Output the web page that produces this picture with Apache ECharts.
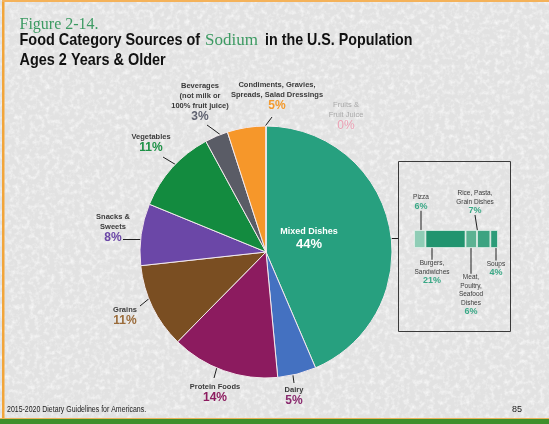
<!DOCTYPE html>
<html>
<head>
<meta charset="utf-8">
<script src="https://cdn.jsdelivr.net/npm/echarts@6/dist/echarts.min.js"></script>
<style>
  html, body { margin: 0; padding: 0; background-color: #e6e6e6; }
  #chart { width: 549px; height: 424px; }
</style>
</head>
<body>
<div id="chart"></div>
<script>
// Food category shares of sodium intake (percent), clockwise from 12 o'clock
const categories = [
  'Mixed Dishes',
  'Dairy',
  'Protein Foods',
  'Grains',
  'Snacks &\nSweets',
  'Vegetables',
  'Beverages\n(not milk or\n100% fruit juice)',
  'Condiments, Gravies,\nSpreads, Salad Dressings',
  'Fruits &\nFruit Juice'
];
const sharePct = [44, 5, 14, 11, 8, 11, 3, 5, 0];

// Breakdown of the Mixed Dishes slice
const mixedParts = ['Pizza', 'Burgers,\nSandwiches', 'Meat,\nPoultry,\nSeafood\nDishes', 'Rice, Pasta,\nGrain Dishes', 'Soups'];
const mixedPct = [6, 21, 6, 7, 4];

// Heading and footer text
const figureNo = 'Figure 2-14.';
const headingA = 'Food Category Sources of';
const headingKey = 'Sodium';
const headingB = 'in the U.S. Population';
const headingLine2 = 'Ages 2 Years & Older';
const sourceNote = '2015-2020 Dietary Guidelines for Americans.';
const pageNo = '85';

// ---- styling ----
const sliceColors = ['#27a07f', '#4471c1', '#8c1b5f', '#7a4e22', '#6b47a7', '#138b3f', '#5a5c66', '#f6972a', '#f0a0b5'];
const pctColors   = ['#ffffff', '#8a2a6e', '#8c1b5f', '#9a6b3a', '#6b47a7', '#1d9146', '#5f6270', '#f39a2e', '#eba0b4'];
const nameColors  = ['#ffffff', '#3a3a3a', '#3a3a3a', '#3a3a3a', '#3a3a3a', '#3a3a3a', '#3a3a3a', '#3a3a3a', '#a9a9a9'];
const partColors  = ['#8fcdb6', '#21946f', '#5bb292', '#3ca381', '#2b9b78'];

const SANS = '"Liberation Sans", Arial, sans-serif';
const SERIF = '"Liberation Serif", "Times New Roman", serif';

// fine-grained stone-like page background
(function () {
  const svg = "<svg xmlns='http://www.w3.org/2000/svg' width='549' height='424'>" +
    "<filter id='n' x='0' y='0' width='100%' height='100%'>" +
    "<feTurbulence type='fractalNoise' baseFrequency='0.2' numOctaves='3' seed='7'/>" +
    "<feColorMatrix values='0 0 0 0 1  0 0 0 0 1  0 0 0 0 1  0 0 0 1.5 -0.66'/></filter>" +
    "<rect width='100%' height='100%' fill='#e2e2e2'/>" +
    "<rect width='100%' height='100%' filter='url(#n)'/></svg>";
  document.body.style.backgroundImage = 'url("data:image/svg+xml;utf8,' + encodeURIComponent(svg) + '")';
})();

// label block centres and leader lines for the pie
const pieLabelAt = [
  [309, 238], [294, 396], [215, 392.5], [125, 316], [113, 228],
  [151, 142.5], [200, 102], [277, 96], [346, 116]
];
const pieLeader = [
  null,
  [[294, 383], [292.5, 372], [289, 363]],
  [[214, 378], [217, 367], [220, 357]],
  [[140, 306], [151, 297], [163, 288]],
  [[123, 239.5], [135, 239.5], [147, 239.5]],
  [[163, 157], [173, 163], [183, 169]],
  [[207, 125], [214, 130], [222, 136]],
  [[272, 117], [266, 125], [259, 133]],
  null
];

// label block centres and leader lines for the inset bar
const partLabelAt = [[421, 202], [432, 272], [471, 294.5], [475, 202], [496, 268.5]];
const partLeader = [
  [[422, 217], [421.5, 223], [421, 230]],
  [[446, 262], [445.5, 253], [445, 244]],
  [[469.5, 275], [469.5, 260], [469.5, 244]],
  [[481, 218], [484, 226], [487, 234]],
  [[498, 257], [497.5, 250], [497, 244]]
];

function richLabel(name, pct) {
  const lines = name.split('\n').map(s => '{n|' + s + '}');
  lines.push('{p|' + pct + '%}');
  return lines.join('\n');
}

const pieData = categories.map((name, i) => ({
  name: name,
  value: sharePct[i],
  itemStyle: { color: sliceColors[i] },
  labelLine: { show: !!pieLeader[i] },
  label: {
    formatter: richLabel(name, sharePct[i]),
    rich: {
      n: {
        fontFamily: SANS, fontSize: i === 0 ? 9 : 7.5, lineHeight: i === 0 ? 12 : 10,
        fontWeight: (i === 8) ? 'normal' : 'bold', color: nameColors[i], align: 'center'
      },
      p: {
        fontFamily: SANS, fontSize: i === 0 ? 13 : 12, lineHeight: 12,
        fontWeight: (i === 8) ? 'normal' : 'bold', color: pctColors[i], align: 'center'
      }
    }
  }
}));

const partSeries = mixedParts.map((name, i) => ({
  type: 'bar',
  name: name,
  stack: 'mixed',
  barWidth: 18,
  data: [mixedPct[i]],
  itemStyle: { color: partColors[i], borderColor: '#e8f3ee', borderWidth: 0.8 },
  label: {
    show: true,
    formatter: richLabel(name, mixedPct[i]),
    rich: {
      n: { fontFamily: SANS, fontSize: 6.5, lineHeight: 8.5, color: '#3a3a3a', align: 'center' },
      p: { fontFamily: SANS, fontSize: 9, lineHeight: 9, fontWeight: 'bold', color: '#3aa886', align: 'center' }
    }
  },
  labelLine: { show: true, lineStyle: { color: '#1e1e1e', width: 1 } },
  labelLayout: function () {
    return {
      x: partLabelAt[i][0], y: partLabelAt[i][1],
      align: 'center', verticalAlign: 'middle',
      labelLinePoints: partLeader[i]
    };
  },
  silent: true
}));

// condensed heading text: a normal-width face squeezed horizontally
function squeezed(text, x, y, font, color, sx) {
  return {
    type: 'text', x: x, y: y, scaleX: sx, scaleY: 1, silent: true,
    style: { text: text, x: 0, y: 0, font: font, fill: color, textAlign: 'left', textVerticalAlign: 'middle' }
  };
}

const chart = echarts.init(document.getElementById('chart'), null, { renderer: 'canvas' });

chart.setOption({
  backgroundColor: 'transparent',
  animation: false,
  grid: { left: 414, top: 230, width: 84, height: 18 },
  xAxis: { type: 'value', min: 0, max: 44, show: false },
  yAxis: { type: 'category', data: ['Mixed Dishes'], show: false },
  series: [
    {
      type: 'pie',
      center: [266, 252],
      radius: 126,
      startAngle: 90,
      clockwise: true,
      avoidLabelOverlap: false,
      silent: true,
      itemStyle: { borderColor: '#f2e9ec', borderWidth: 1 },
      labelLine: { lineStyle: { color: '#1e1e1e', width: 1 } },
      labelLayout: function (params) {
        const i = params.dataIndex;
        const out = {
          x: pieLabelAt[i][0], y: pieLabelAt[i][1],
          align: 'center', verticalAlign: 'middle'
        };
        if (pieLeader[i]) out.labelLinePoints = pieLeader[i];
        return out;
      },
      data: pieData
    }
  ].concat(partSeries),
  graphic: [
    // slide frame: orange edge on the left and top, green band at the bottom
    { type: 'rect', shape: { x: 2, y: 0, width: 2.5, height: 419 }, style: { fill: '#f2a53a' }, silent: true },
    { type: 'rect', shape: { x: 2, y: 0, width: 547, height: 2 }, style: { fill: '#f4b25a' }, silent: true },
    { type: 'rect', shape: { x: 0, y: 418, width: 549, height: 1 }, style: { fill: '#e9b35a' }, silent: true },
    { type: 'rect', shape: { x: 0, y: 419, width: 549, height: 5 }, style: { fill: '#3f8f2c' }, silent: true },

    // heading
    { type: 'text', x: 19.5, y: 24.5, silent: true,
      style: { text: figureNo, x: 0, y: 0, font: '16px ' + SERIF, fill: '#3c9a62', textAlign: 'left', textVerticalAlign: 'middle' } },
    squeezed(headingA, 19.5, 40.5, 'bold 17px ' + SANS, '#111111', 0.85),
    { type: 'text', x: 205, y: 41, silent: true,
      style: { text: headingKey, x: 0, y: 0, font: '17px ' + SERIF, fill: '#3c9a62', textAlign: 'left', textVerticalAlign: 'middle' } },
    squeezed(headingB, 265, 40.5, 'bold 17px ' + SANS, '#111111', 0.84),
    squeezed(headingLine2, 19.5, 60.5, 'bold 17px ' + SANS, '#111111', 0.85),

    // footer
    squeezed(sourceNote, 7, 409.5, '8.5px ' + SANS, '#1a1a1a', 0.82),
    { type: 'text', x: 512, y: 409.5, silent: true,
      style: { text: pageNo, x: 0, y: 0, font: '9px ' + SANS, fill: '#1a1a1a', textAlign: 'left', textVerticalAlign: 'middle' } },

    // frame around the Mixed Dishes breakdown
    { type: 'rect', shape: { x: 398.5, y: 161.5, width: 112, height: 170 }, style: { fill: 'none', stroke: '#3a3a3a', lineWidth: 1 }, silent: true },
    // bracket on the Mixed Dishes slice and connector to the breakdown
    { type: 'polyline', shape: { points: [[322, 219.5], [341.5, 219.5], [341.5, 258.5], [322, 258.5]] }, style: { fill: 'none', stroke: '#1e1e1e', lineWidth: 1 }, silent: true },
    { type: 'line', shape: { x1: 341.5, y1: 238.5, x2: 398.5, y2: 238.5 }, style: { stroke: '#1e1e1e', lineWidth: 1 }, silent: true }
  ]
});
</script>
</body>
</html>
